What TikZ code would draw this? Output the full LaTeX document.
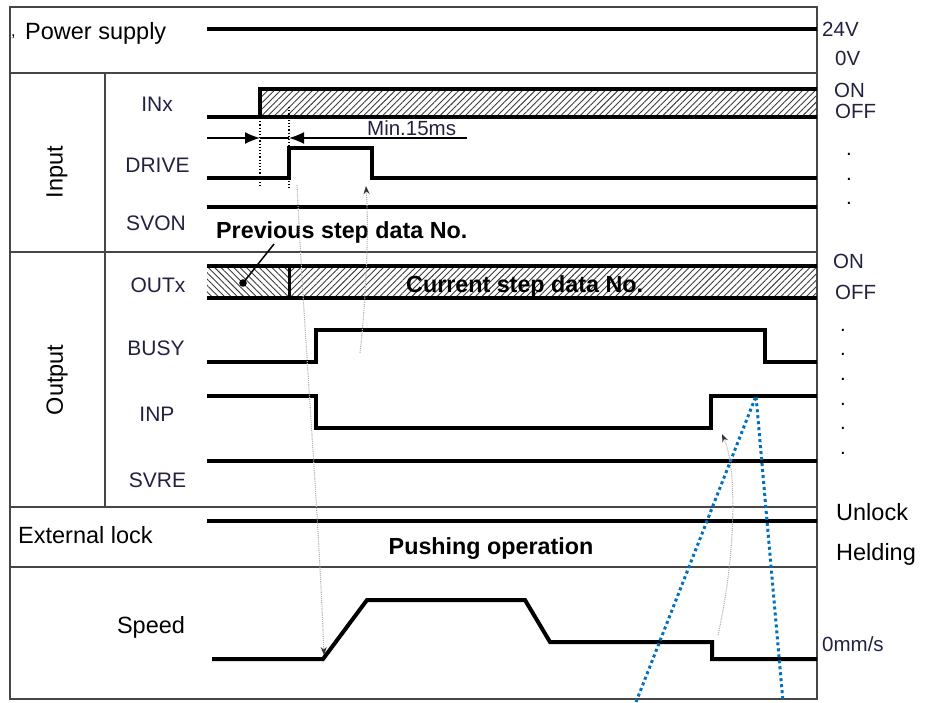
\documentclass[tikz,border=0pt]{standalone}
\usepackage{fontspec}
\setmainfont{Liberation Sans}
\usetikzlibrary{patterns.meta,arrows.meta}
\definecolor{lab}{RGB}{34,34,64}
\definecolor{frame}{RGB}{70,70,70}
\definecolor{blu}{RGB}{0,112,192}
\definecolor{hatchc}{RGB}{60,60,60}
\begin{document}
\begin{tikzpicture}[x=1pt,y=-1pt,
  frm/.style={draw=frame,line width=1.6pt},
  sig/.style={line width=4pt,line join=miter,line cap=butt},
  big/.style={font=\fontsize{23.5}{27}\selectfont,inner sep=0},
  sname/.style={font=\fontsize{21}{24}\selectfont,text=lab,inner sep=0,anchor=base},
  rval/.style={font=\fontsize{20.5}{23}\selectfont,text=lab,inner sep=0,anchor=base west},
  bold/.style={font=\fontsize{23.3}{27}\selectfont\bfseries,inner sep=0,anchor=base west},
  dotl/.style={font=\fontsize{20.5}{23}\selectfont,inner sep=0,anchor=base},
  hatchne/.style={pattern={Lines[angle=45,distance=4.5pt,line width=0.9pt]},pattern color=hatchc},
  hatchnw/.style={pattern={Lines[angle=-45,distance=4.5pt,line width=0.9pt]},pattern color=hatchc},
  gdot/.style={draw=gray!60,line width=1.1pt,densely dotted,-{Stealth[length=8pt,width=6pt,color=black!80]}},
  bdot/.style={draw=blu,line width=3pt,dash pattern=on 3pt off 3pt}
]
\useasboundingbox (0,0) rectangle (932,702);

% hatched areas
\fill[hatchne] (260,89) rectangle (817,117);
\fill[hatchnw] (207,266) rectangle (289,298);
\fill[hatchne] (289,266) rectangle (817,298);

% frame
\draw[frm] (10,7) rectangle (817,699);
\draw[frm] (10,73) -- (817,73);
\draw[frm] (10,252) -- (817,252);
\draw[frm] (10,507) -- (817,507);
\draw[frm] (10,567) -- (817,567);
\draw[frm] (105,73) -- (105,507);

% waveforms
\draw[sig] (207,29) -- (817,29);
\draw[sig] (207,117) -- (260,117) -- (260,89) -- (817,89);
\draw[sig] (260,117) -- (817,117);
\draw[sig] (207,178) -- (289,178) -- (289,148) -- (372,148) -- (372,178) -- (817,178);
\draw[sig] (207,207) -- (817,207);
\draw[sig] (207,266) -- (817,266);
\draw[sig] (207,298) -- (817,298);
\draw[line width=3pt] (289,266) -- (289,298);
\draw[sig] (207,362) -- (316,362) -- (316,330) -- (765,330) -- (765,362) -- (817,362);
\draw[sig] (207,396) -- (316,396) -- (316,428) -- (711,428) -- (711,396) -- (817,396);
\draw[sig] (207,461) -- (817,461);
\draw[sig] (207,521) -- (817,521);
\draw[sig] (212,659) -- (323,659) -- (367,600) -- (525,600) -- (550,642) -- (712,642) -- (712,659) -- (817,659);

% timing marks
\draw[line width=1.2pt,dotted] (260,118) -- (260,188);
\draw[line width=1.2pt,dotted] (289,107) -- (289,188);
\coordinate (mA) at (207,138);
\coordinate (mB) at (260,138);
\coordinate (mC) at (289,138);
\coordinate (mD) at (467,138);
\draw[line width=1.5pt,-{Latex[length=15pt,width=12pt]}] (mA) -- (mB);
\draw[line width=1.5pt,-{Latex[length=15pt,width=12pt]}] (mD) -- (mC);
\draw[line width=1.2pt] (mB) -- (mC);
\node[rval] (min) at (367,135) {Min.15ms};

% left labels
\node[big,anchor=base west,font=\fontsize{16}{18}\selectfont] (comma) at (11,36) {,};
\node[big,anchor=base west] (pwr) at (25,39) {Power supply};
\node[big,rotate=90] (inp) at (57,172) {Input};
\node[big,rotate=90] (outp) at (57,380) {Output};
\node[big,anchor=base west] (ext) at (18,543) {External lock};
\node[big,anchor=base] (spd) at (151,633) {Speed};

\node[sname] (nINx) at (157,111) {INx};
\node[sname] (nDRIVE) at (157.5,172) {DRIVE};
\node[sname] (nSVON) at (156,230) {SVON};
\node[sname] (nOUTx) at (158,292) {OUTx};
\node[sname] (nBUSY) at (156,355) {BUSY};
\node[sname] (nINP) at (157,421) {INP};
\node[sname] (nSVRE) at (157.5,487) {SVRE};

% right labels
\node[rval] (v24) at (822,36) {24V};
\node[rval] (v0) at (835,65) {0V};
\node[rval] (on1) at (834,97) {ON};
\node[rval] (off1) at (835,118) {OFF};
\node[dotl] (d1) at (849,155) {.};
\node[dotl] (d2) at (849,180) {.};
\node[dotl] (d3) at (849,204) {.};
\node[rval] (on2) at (833,268) {ON};
\node[rval] (off2) at (835,299) {OFF};
\node[dotl] (e1) at (843,331) {.};
\node[dotl] (e2) at (843,355) {.};
\node[dotl] (e3) at (843,380) {.};
\node[dotl] (e4) at (843,405) {.};
\node[dotl] (e5) at (843,429) {.};
\node[dotl] (e6) at (843,454) {.};
\node[big,anchor=base west] (unl) at (836,520) {Unlock};
\node[big,anchor=base west] (hel) at (836,560) {Helding};
\node[rval] (zero) at (822,651) {0mm/s};

% bold notes
\node[bold] (prev) at (216,238) {Previous step data No.};
\node[bold] (curr) at (406,292) {Current step data No.};
\node[bold,anchor=base] (push) at (491,554) {Pushing operation};

% leader
\coordinate (ldA) at (274,244);
\coordinate (ldB) at (243,283);
\draw[line width=1.5pt] (ldA) -- (ldB);
\fill (ldB) circle (3.8pt);

% gray dotted arrows
\coordinate (g1s) at (297,185);
\coordinate (g1e) at (324,655);
\draw[gdot] (g1s) .. controls (305,350) and (318,500) .. (g1e);
\coordinate (g2s) at (360,353);
\coordinate (g2e) at (366,186);
\draw[gdot] (g2s) .. controls (366,300) and (369,230) .. (g2e);
\coordinate (g3s) at (718,635);
\coordinate (g3e) at (722,434);
\draw[gdot] (g3s) .. controls (735,560) and (738,470) .. (g3e);

% blue dotted lines
\coordinate (apex) at (756,396);
\coordinate (bl) at (636,702);
\coordinate (br) at (783,702);
\draw[bdot] (bl) -- (apex) -- (br);
\end{tikzpicture}
\end{document}
